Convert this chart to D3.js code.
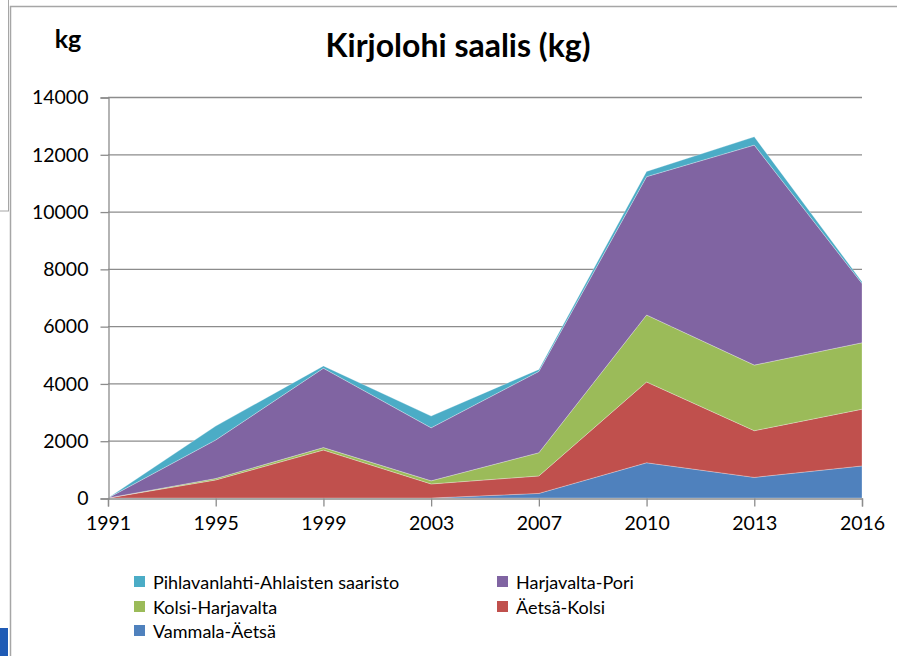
<!DOCTYPE html>
<html><head><meta charset="utf-8">
<script src="https://cdn.jsdelivr.net/npm/d3@7"></script>
<style>html,body{margin:0;padding:0;background:#fff;overflow:hidden}</style>
</head><body>
<script>
const years = ["1991","1995","1999","2003","2007","2010","2013","2016"];
const seriesNames = ["Vammala-Äetsä","Äetsä-Kolsi","Kolsi-Harjavalta","Harjavalta-Pori","Pihlavanlahti-Ahlaisten saaristo"];
const vammala = [0,0,0,0,160,1230,720,1120];
const aetsaKolsi = [0,630,1675,490,610,2820,1630,1980];
const kolsiHarjavalta = [0,50,85,110,810,2340,2290,2320];
const harjavaltaPori = [0,1345,2770,1850,2840,4830,7680,2070];
const pihlavanlahti = [0,485,80,410,70,180,290,60];
const colors = ["#4F81BD","#C0504D","#9BBB59","#8064A2","#4BACC6"];
const yTicks = [0,2000,4000,6000,8000,10000,12000,14000];

const W=897,H=656;
const font="Lato, 'Open Sans', sans-serif";
const svg=d3.select("body").append("svg").attr("width",W).attr("height",H);

// background decorations
svg.append("rect").attr("x",-5).attr("y",-5).attr("width",13.5).attr("height",216).attr("fill","#fff").attr("stroke","#a6a6a6").attr("stroke-width",1);
svg.append("rect").attr("x",10.5).attr("y",6.5).attr("width",900).attr("height",700).attr("fill","#fff").attr("stroke","#a6a6a6").attr("stroke-width",1.5);
svg.append("rect").attr("x",0).attr("y",628).attr("width",8).attr("height",28).attr("fill","#1f5bb5");

const x=d3.scalePoint().domain(years).range([108,862]);
const y=d3.scaleLinear().domain([0,14000]).range([498,97]);

// gridlines
svg.append("g").selectAll("line").data(yTicks.slice(1)).join("line")
  .attr("x1",108).attr("x2",862).attr("y1",d=>y(d)+0.5).attr("y2",d=>y(d)+0.5)
  .attr("stroke","#8c8c8c").attr("stroke-width",1.3);

const table=years.map((yr,i)=>({year:yr,
  [seriesNames[0]]:vammala[i],[seriesNames[1]]:aetsaKolsi[i],[seriesNames[2]]:kolsiHarjavalta[i],
  [seriesNames[3]]:harjavaltaPori[i],[seriesNames[4]]:pihlavanlahti[i]}));
const stacked=d3.stack().keys(seriesNames)(table);
const area=d3.area().x(d=>x(d.data.year)).y0(d=>y(d[0])).y1(d=>y(d[1]));
svg.append("g").selectAll("path").data(stacked).join("path")
  .attr("d",area).attr("fill",(d,i)=>colors[i])
  .attr("stroke","rgba(255,255,255,0.35)").attr("stroke-width",0.8);

// axes
const yAxis=d3.axisLeft(y).tickValues(yTicks).tickSize(8).tickPadding(12).tickFormat(d3.format("d"));
const gy=svg.append("g").attr("transform","translate(108.5,0.5)").call(yAxis);
const xAxis=d3.axisBottom(x).tickSize(8).tickPadding(10);
const gx=svg.append("g").attr("transform","translate(0,498.5)").call(xAxis);
[gy,gx].forEach(g=>{
  g.select(".domain").attr("stroke","#8c8c8c").attr("stroke-width",1.3);
  g.selectAll(".tick line").attr("stroke","#8c8c8c").attr("stroke-width",1.3);
  g.selectAll("text").attr("font-family",font).attr("font-size",19.5).attr("fill","#000");
});

// titles
svg.append("text").attr("x",458).attr("y",57).attr("text-anchor","middle")
  .attr("font-family",font).attr("font-weight","bold").attr("font-size",32).text("Kirjolohi saalis (kg)");
svg.append("text").attr("x",68).attr("y",48).attr("text-anchor","middle")
  .attr("font-family",font).attr("font-weight","bold").attr("font-size",25).text("kg");

// legend
const legendItems=[
  {i:4,x:134,y:582},{i:3,x:497,y:582},
  {i:2,x:134,y:607},{i:1,x:497,y:607},
  {i:0,x:134,y:631}];
const lg=svg.append("g").selectAll("g").data(legendItems).join("g")
  .attr("transform",d=>`translate(${d.x},${d.y})`);
lg.append("rect").attr("x",0).attr("y",-6).attr("width",11).attr("height",11).attr("fill",d=>colors[d.i]);
lg.append("text").attr("x",19).attr("y",6.5).attr("font-family",font).attr("font-size",18)
  .text(d=>seriesNames[d.i]);
</script>
</body></html>
